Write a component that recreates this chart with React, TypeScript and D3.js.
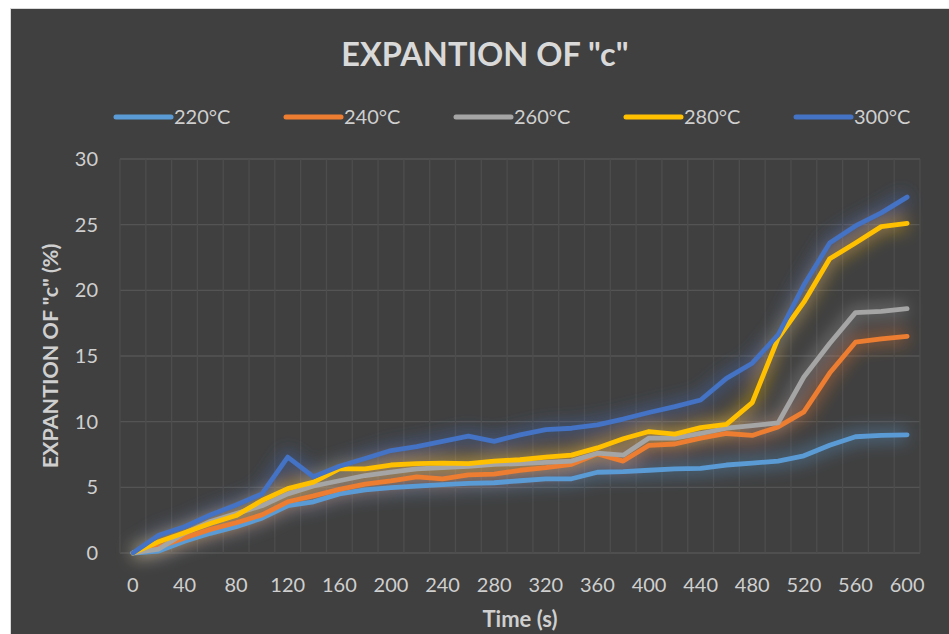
import React from "react";
import * as d3 from "d3";

const categories: number[] = [0,20,40,60,80,100,120,140,160,180,200,220,240,260,280,300,320,340,360,380,400,420,440,460,480,500,520,540,560,580,600];
const seriesNames: string[] = ["220°C","240°C","260°C","280°C","300°C"];
const s220: number[] = [0,0.15,0.9,1.5,2.0,2.65,3.6,3.9,4.5,4.8,4.97,5.1,5.2,5.3,5.35,5.5,5.65,5.65,6.15,6.2,6.3,6.4,6.45,6.7,6.85,7.0,7.4,8.2,8.85,8.95,9.0];
const s240: number[] = [0,0.45,1.15,1.8,2.3,2.9,3.9,4.35,4.85,5.25,5.5,5.8,5.65,5.95,6.0,6.3,6.5,6.75,7.55,7.0,8.2,8.3,8.75,9.1,8.95,9.6,10.75,13.7,16.05,16.3,16.5];
const s260: number[] = [0,0.3,1.5,2.4,3.0,3.6,4.5,5.1,5.5,5.9,6.15,6.4,6.5,6.6,6.75,6.8,6.9,7.0,7.6,7.45,8.75,8.75,9.1,9.5,9.7,9.9,13.4,15.95,18.3,18.4,18.6];
const s280: number[] = [0,0.86,1.55,2.25,2.85,4.0,4.9,5.4,6.4,6.4,6.7,6.8,6.85,6.8,7.0,7.1,7.3,7.45,8.0,8.7,9.25,9.05,9.55,9.8,11.45,16.35,19.1,22.4,23.6,24.85,25.1];
const s300: number[] = [0,1.35,2.0,2.9,3.65,4.5,7.3,5.8,6.6,7.2,7.8,8.1,8.5,8.9,8.5,9.0,9.4,9.5,9.75,10.2,10.7,11.15,11.65,13.3,14.45,16.6,20.4,23.6,24.9,25.9,27.1];
const yTicks: number[] = [0,5,10,15,20,25,30];
const xTickLabels: number[] = [0,40,80,120,160,200,240,280,320,360,400,440,480,520,560,600];

const allSeries = [s220, s240, s260, s280, s300];
const colors = ["#5B9BD5", "#ED7D31", "#A5A5A5", "#FFC000", "#4472C4"];

const W = 949, H = 634;
const plot = { left: 120, right: 920, top: 159, bottom: 553 };
const FONT = "Lato, 'Open Sans', sans-serif";
const TXT = "#cfcfcf";

export default function App() {
  const x = d3.scaleBand<number>().domain(categories).range([plot.left, plot.right]).padding(0);
  const y = d3.scaleLinear().domain([0, 30]).range([plot.bottom, plot.top]);
  const bw = x.bandwidth();
  const cx = (c: number) => (x(c) as number) + bw / 2;
  const line = d3.line<number>().x((_, i) => cx(categories[i])).y((v) => y(v));

  const vLines = categories.map((c) => x(c) as number).concat([plot.right]);

  return (
    <svg width={W} height={H} style={{ position: "absolute", left: 0, top: 0 }}>
      <defs>
        <filter id="glow" x="-20%" y="-20%" width="140%" height="140%">
          <feGaussianBlur stdDeviation="8" />
        </filter>
      </defs>
      <rect x={0} y={0} width={W} height={H} fill="#ffffff" />
      <rect x={10.5} y={8.5} width={W} height={H} fill="#404040" stroke="#d9d9d9" strokeWidth={1} />

      <text x={485} y={66} textAnchor="middle" fontFamily={FONT} fontWeight={700} fontSize={32.5} fill="#d9d9d9">
        EXPANTION OF "c"
      </text>

      {seriesNames.map((n, i) => {
        const x0 = 116 + i * 170;
        return (
          <g key={n}>
            <line x1={x0} x2={x0 + 55} y1={117} y2={117} stroke={colors[i]} strokeWidth={5} strokeLinecap="round" />
            <text x={x0 + 58} y={124} fontFamily={FONT} fontSize={20} fill={TXT}>{n}</text>
          </g>
        );
      })}

      {yTicks.map((t) => (
        <line key={"h" + t} x1={plot.left} x2={plot.right} y1={y(t)} y2={y(t)} stroke="#545454" strokeWidth={1.3} />
      ))}
      {vLines.map((vx, i) => (
        <line key={"v" + i} x1={vx} x2={vx} y1={plot.top} y2={plot.bottom} stroke="#4d4d4d" strokeWidth={1.3} />
      ))}

      {yTicks.map((t) => (
        <text key={"yt" + t} x={98} y={y(t)} dy="0.35em" textAnchor="end" fontFamily={FONT} fontSize={20} fill={TXT}>{t}</text>
      ))}
      {xTickLabels.map((t) => (
        <text key={"xt" + t} x={cx(t)} y={592} textAnchor="middle" fontFamily={FONT} fontSize={20} fill={TXT}>{t}</text>
      ))}

      <text x={520} y={627} textAnchor="middle" fontFamily={FONT} fontWeight={700} fontSize={22} fill={TXT}>Time (s)</text>
      <text transform={`translate(58,356) rotate(-90)`} textAnchor="middle" fontFamily={FONT} fontWeight={700} fontSize={21.5} fill={TXT}>
        EXPANTION OF "c" (%)
      </text>

      <g filter="url(#glow)">
        {allSeries.map((s, i) => (
          <path key={"g" + i} d={line(s) || ""} fill="none" stroke={colors[i]} strokeWidth={14} strokeOpacity={0.4} strokeLinejoin="round" />
        ))}
      </g>
      {allSeries.map((s, i) => (
        <path key={"s" + i} d={line(s) || ""} fill="none" stroke={colors[i]} strokeWidth={4.8} strokeLinejoin="round" strokeLinecap="round" />
      ))}
    </svg>
  );
}
